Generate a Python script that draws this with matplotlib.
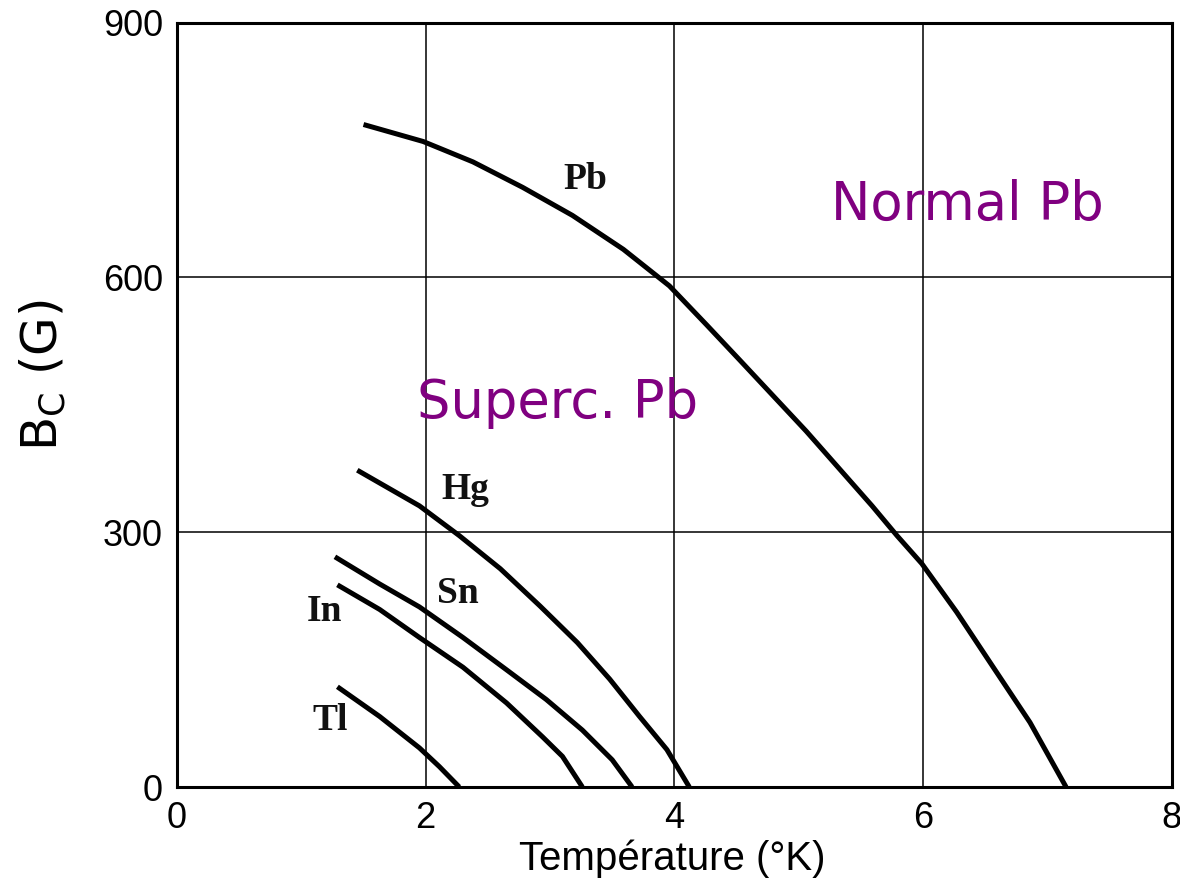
import matplotlib
matplotlib.use("Agg")
import matplotlib.pyplot as plt

# critical field curves, read point by point (T in K, B in gauss)
pb_T = [1.5, 1.98, 2.38, 2.78, 3.18, 3.59, 3.96, 4.26, 4.53, 5.06,
        5.59, 5.79, 5.99, 6.27, 6.56, 6.86, 7.15]
pb_B = [780, 760, 736, 706, 673, 633, 590, 544, 502, 419,
        331, 296, 263, 206, 142, 76, 0]

hg_T = [1.45, 1.95, 2.27, 2.6, 2.92, 3.22, 3.48, 3.72, 3.94, 4.12]
hg_B = [373, 331, 296, 257, 213, 170, 127, 83, 44, 0]

sn_T = [1.27, 1.63, 1.95, 2.3, 2.65, 2.97, 3.26, 3.5, 3.66]
sn_B = [271, 239, 212, 176, 138, 103, 67, 32, 0]

in_T = [1.29, 1.63, 1.95, 2.3, 2.65, 2.94, 3.1, 3.26]
in_B = [238, 209, 176, 141, 99, 59, 36, 0]

tl_T = [1.29, 1.63, 1.95, 2.11, 2.27]
tl_B = [118, 83, 46, 24, 0]

curves = [("Pb", pb_T, pb_B), ("Hg", hg_T, hg_B), ("Sn", sn_T, sn_B),
          ("In", in_T, in_B), ("Tl", tl_T, tl_B)]

# label positions (T, B) for each element
label_pos = {"Pb": (3.28, 715), "Hg": (2.32, 350), "Sn": (2.26, 228),
             "In": (1.19, 207), "Tl": (1.23, 78)}

x_ticks = [0, 2, 4, 6, 8]
y_ticks = [0, 300, 600, 900]

fig = plt.figure(figsize=(11.8, 8.93), dpi=100)
ax = fig.add_axes([0.150, 0.1187, 0.843, 0.856])

for name, T, B in curves:
    ax.plot(T, B, color="black", lw=3.6, solid_capstyle="butt",
            solid_joinstyle="round")
    tx, ty = label_pos[name]
    ax.text(tx, ty, name, family="Liberation Serif", fontsize=27,
            fontweight="bold", ha="center", va="center", color="#111111")

ax.text(3.06, 452, "Superc. Pb", color="#800080", fontsize=38,
        ha="center", va="center", family="DejaVu Sans")
ax.text(6.36, 685, "Normal Pb", color="#800080", fontsize=38,
        ha="center", va="center", family="DejaVu Sans")

ax.set_xlim(0, 8)
ax.set_ylim(0, 900)
ax.set_xticks(x_ticks)
ax.set_yticks(y_ticks)
ax.grid(True, color="black", lw=1.1)
ax.tick_params(length=0, labelsize=26, pad=10)
for lab in ax.get_xticklabels() + ax.get_yticklabels():
    lab.set_family("Liberation Sans")
for sp in ax.spines.values():
    sp.set_linewidth(2.2)

fig.text(0.57, 0.038, "Température (°K)", fontsize=29, ha="center",
         va="center", family="Liberation Sans")
fig.text(0.036, 0.58, r"B$_\mathregular{C}$ (G)", fontsize=36, rotation=90,
         ha="center", va="center", family="DejaVu Sans")

fig.savefig("out.png", dpi=100)
